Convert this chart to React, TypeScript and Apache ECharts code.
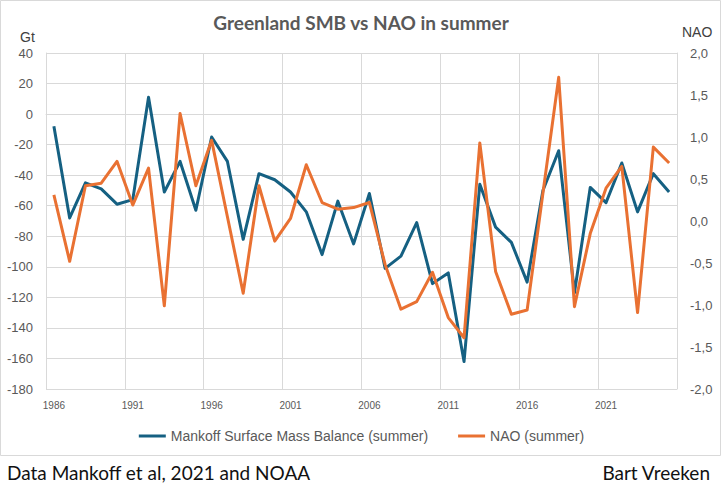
import React, { useEffect, useRef } from "react";
import * as echarts from "echarts";

const years = [
  "1986","1987","1988","1989","1990","1991","1992","1993","1994","1995",
  "1996","1997","1998","1999","2000","2001","2002","2003","2004","2005",
  "2006","2007","2008","2009","2010","2011","2012","2013","2014","2015",
  "2016","2017","2018","2019","2020","2021","2022","2023","2024","2025",
];

const smbSummer = [
  -8, -68, -45, -49, -59, -56, 11, -51, -31, -63,
  -15, -31, -82, -39, -43, -51, -64, -92, -57, -85,
  -52, -101, -93, -71, -111, -104, -162, -46, -74, -84,
  -110, -50, -24, -117, -48, -58, -32, -64, -39, -51,
];

const naoSummer = [
  0.31, -0.48, 0.42, 0.45, 0.71, 0.19, 0.63, -1.01, 1.28, 0.42,
  0.96, 0.05, -0.86, 0.42, -0.24, 0.03, 0.67, 0.22, 0.14, 0.16,
  0.22, -0.52, -1.05, -0.96, -0.61, -1.15, -1.39, 0.93, -0.6, -1.11,
  -1.06, 0.33, 1.71, -1.02, -0.15, 0.39, 0.65, -1.09, 0.88, 0.69,
];

const seriesNames = ["Mankoff Surface Mass Balance (summer)", "NAO (summer)"];

const BLUE = "#156082";
const ORANGE = "#E97132";
const GRID = "#d9d9d9";
const TEXT = "#595959";
const FONT = "'Liberation Sans', Arial, sans-serif";

export default function App() {
  const ref = useRef<HTMLDivElement>(null);
  useEffect(() => {
    document.body.style.margin = "0";
    const chart = echarts.init(ref.current!, null, { renderer: "svg" });
    chart.setOption({
      animation: false,
      backgroundColor: "#ffffff",
      grid: { left: 46, right: 46, top: 53, bottom: 99, containLabel: false },
      graphic: [
        {
          type: "rect",
          shape: { x: 0.5, y: 0.5, width: 720, height: 455 },
          style: { fill: "none", stroke: GRID, lineWidth: 1 },
          silent: true,
        },
        {
          type: "text",
          x: 361,
          y: 22,
          style: {
            text: "Greenland SMB vs NAO in summer",
            fill: TEXT,
            font: "bold 19px Lato, 'Open Sans', sans-serif",
            textAlign: "center",
            textVerticalAlign: "middle",
          },
        },
        {
          type: "text",
          x: 20,
          y: 37,
          style: {
            text: "Gt",
            fill: "#404040",
            font: "14px " + FONT,
            textAlign: "left",
            textVerticalAlign: "middle",
          },
        },
        {
          type: "text",
          x: 682,
          y: 32,
          style: {
            text: "NAO",
            fill: "#404040",
            font: "14px " + FONT,
            textAlign: "left",
            textVerticalAlign: "middle",
          },
        },
        {
          type: "text",
          x: 7,
          y: 472,
          style: {
            text: "Data Mankoff et al, 2021 and NOAA",
            fill: "#111111",
            font: "19px Lato, 'Open Sans', sans-serif",
            textAlign: "left",
            textVerticalAlign: "middle",
          },
        },
        {
          type: "text",
          x: 710,
          y: 472,
          style: {
            text: "Bart Vreeken",
            fill: "#111111",
            font: "19px Lato, 'Open Sans', sans-serif",
            textAlign: "right",
            textVerticalAlign: "middle",
          },
        },
      ],
      legend: {
        show: true,
        top: 424,
        left: "center",
        icon: "rect",
        itemWidth: 27,
        itemHeight: 3,
        itemGap: 30,
        textStyle: { color: TEXT, fontSize: 14, fontFamily: FONT },
        data: seriesNames,
      },
      xAxis: {
        type: "category",
        data: years,
        boundaryGap: true,
        axisLine: { show: true, lineStyle: { color: GRID, width: 1 } },
        axisTick: { show: false },
        axisLabel: {
          interval: 4,
          color: TEXT,
          fontSize: 10,
          fontFamily: FONT,
          margin: 11,
        },
        splitLine: { show: true, interval: 4, lineStyle: { color: GRID, width: 1 } },
      },
      yAxis: [
        {
          type: "value",
          min: -180,
          max: 40,
          interval: 20,
          position: "left",
          axisLine: { show: true, lineStyle: { color: GRID } },
          axisTick: { show: false },
          axisLabel: { color: TEXT, fontSize: 13, fontFamily: FONT, margin: 13 },
          splitLine: { show: true, lineStyle: { color: GRID, width: 1 } },
        },
        {
          type: "value",
          min: -2,
          max: 2,
          interval: 0.5,
          position: "right",
          axisLine: { show: true, lineStyle: { color: GRID } },
          axisTick: { show: false },
          axisLabel: {
            color: TEXT,
            fontSize: 13,
            fontFamily: FONT,
            margin: 13,
            formatter: (v: number) => v.toFixed(1).replace(".", ","),
          },
          splitLine: { show: false },
        },
      ],
      series: [
        {
          name: seriesNames[0],
          type: "line",
          yAxisIndex: 0,
          data: smbSummer,
          showSymbol: false,
          symbol: "none",
          lineStyle: { color: BLUE, width: 3, join: "round" },
          itemStyle: { color: BLUE },
          z: 3,
        },
        {
          name: seriesNames[1],
          type: "line",
          yAxisIndex: 1,
          data: naoSummer,
          showSymbol: false,
          symbol: "none",
          lineStyle: { color: ORANGE, width: 3, join: "round" },
          itemStyle: { color: ORANGE },
          z: 4,
        },
      ],
    });
    return () => chart.dispose();
  }, []);
  return <div ref={ref} style={{ width: 723, height: 488 }} />;
}
